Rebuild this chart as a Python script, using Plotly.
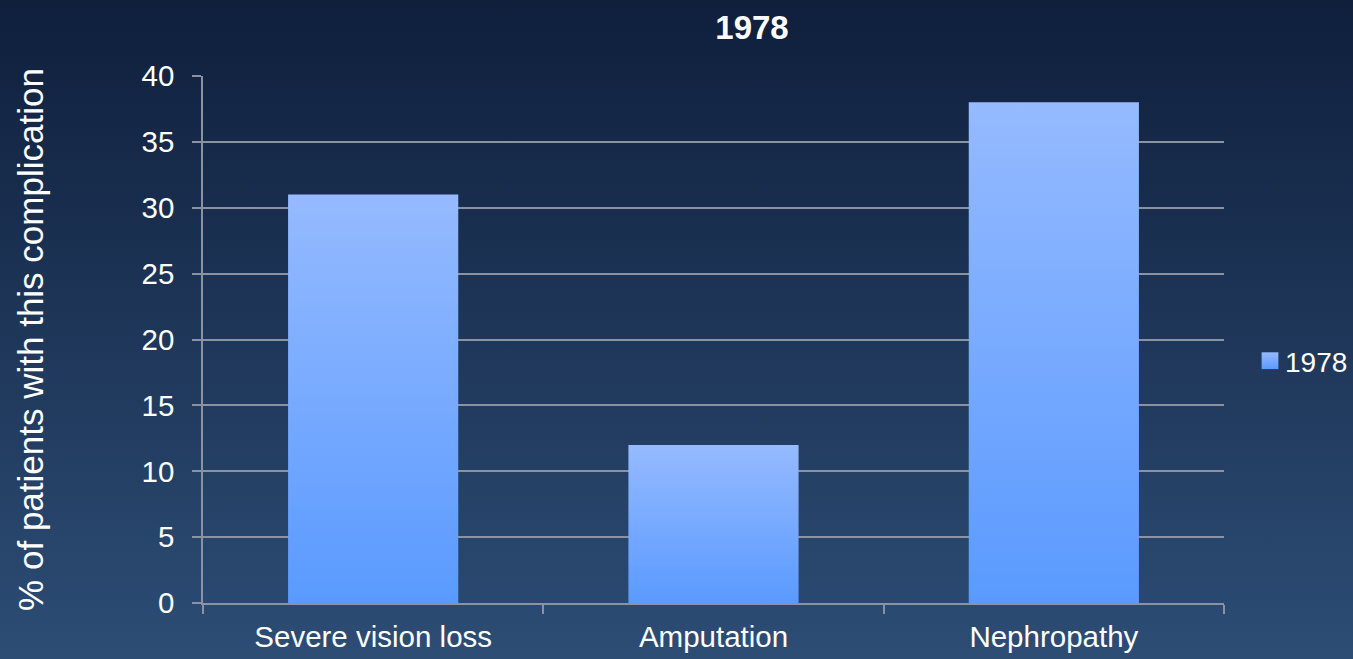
import base64
import plotly.graph_objects as go

# Share of patients with each complication, 1978 cohort
categories = ["Severe vision loss", "Amputation", "Nephropathy"]
values_1978 = [31, 12, 38]
y_ticks = [0, 5, 10, 15, 20, 25, 30, 35, 40]

W, H = 1353, 659
L, R, T, B = 203, 129, 76, 56
pw, ph = W - L - R, H - T - B

FONT = "Liberation Sans, Arial, sans-serif"
GRID = "#8b93a2"

# Vertical navy backdrop as an SVG gradient image behind the whole page
bg_svg = (
    '<svg xmlns="http://www.w3.org/2000/svg" width="10" height="100" preserveAspectRatio="none">'
    '<defs><linearGradient id="g" x1="0" y1="0" x2="0" y2="1">'
    '<stop offset="0" stop-color="#0f1f3c"/><stop offset="1" stop-color="#2d4d75"/>'
    '</linearGradient></defs><rect width="10" height="100" fill="url(#g)"/></svg>'
)
bg_uri = "data:image/svg+xml;base64," + base64.b64encode(bg_svg.encode()).decode()

fig = go.Figure()
fig.add_trace(go.Bar(
    x=categories,
    y=values_1978,
    name="1978",
    marker=dict(color="#78aaff", line=dict(width=0)),
))

fig.update_layout(
    width=W, height=H,
    margin=dict(l=L, r=R, t=T, b=B, pad=0, autoexpand=False),
    paper_bgcolor="#1c3457",
    plot_bgcolor="rgba(0,0,0,0)",
    bargap=0.5,
    font=dict(family=FONT, color="white", size=29),
    title=dict(
        text="<b>1978</b>", x=752 / W, xanchor="center", xref="container",
        y=1 - 27 / H, yanchor="middle", yref="container",
        font=dict(size=33, color="white", family=FONT),
    ),
    showlegend=True,
    legend=dict(
        xref="container", x=1245 / W, xanchor="left",
        yref="container", y=1 - 361 / H, yanchor="middle",
        bgcolor="rgba(0,0,0,0)",
        font=dict(size=28, color="white", family=FONT),
        itemwidth=30,
    ),
    images=[dict(
        source=bg_uri, xref="paper", yref="paper",
        x=-L / pw, y=1 + T / ph, sizex=W / pw, sizey=H / ph,
        xanchor="left", yanchor="top", sizing="stretch", layer="below",
    )],
)

fig.update_yaxes(
    range=[0, 40], tickvals=y_ticks, automargin=False,
    showgrid=True, gridcolor=GRID, gridwidth=1.5,
    showline=True, linecolor=GRID, linewidth=1.5,
    ticks="outside", ticklen=9, tickcolor=GRID, tickwidth=1.5,
    ticklabelstandoff=12,
    zeroline=False,
    tickfont=dict(size=29.5, color="white"),
    title=dict(text="% of patients with this complication",
               font=dict(size=35, color="white"), standoff=87),
)
fig.update_xaxes(
    automargin=False,
    showline=True, linecolor=GRID, linewidth=1.5,
    ticks="outside", tickson="boundaries", ticklen=9, tickcolor=GRID, tickwidth=1.5,
    ticklabelstandoff=7,
    showgrid=False,
    tickfont=dict(size=29.5, color="white"),
)

# Give each bar (and its legend swatch) a light-to-deep blue vertical fade
post = """
var gd = document.getElementById('{plot_id}');
function fadeBars() {
  var svg = gd.querySelector('svg.main-svg');
  if (!svg) return;
  if (!document.getElementById('barFade')) {
    var ns = 'http://www.w3.org/2000/svg';
    var defs = document.createElementNS(ns, 'defs');
    var lg = document.createElementNS(ns, 'linearGradient');
    lg.setAttribute('id', 'barFade');
    lg.setAttribute('x1', '0'); lg.setAttribute('y1', '0');
    lg.setAttribute('x2', '0'); lg.setAttribute('y2', '1');
    [['0', '#95baff'], ['1', '#5a9aff']].forEach(function (s) {
      var st = document.createElementNS(ns, 'stop');
      st.setAttribute('offset', s[0]);
      st.setAttribute('stop-color', s[1]);
      lg.appendChild(st);
    });
    defs.appendChild(lg);
    svg.insertBefore(defs, svg.firstChild);
  }
  gd.querySelectorAll('.trace.bars .point path, .legendpoints path').forEach(function (p) {
    p.style.fill = 'url(#barFade)';
  });
  gd.querySelectorAll('.legendpoints path').forEach(function (p) {
    var t = p.getAttribute('transform') || '';
    if (t.indexOf('scale') < 0) p.setAttribute('transform', t + ' translate(5,0) scale(1.4)');
  });
}
fadeBars();
gd.on('plotly_afterplot', fadeBars);
"""

fig.write_html("out.html", post_script=post)
